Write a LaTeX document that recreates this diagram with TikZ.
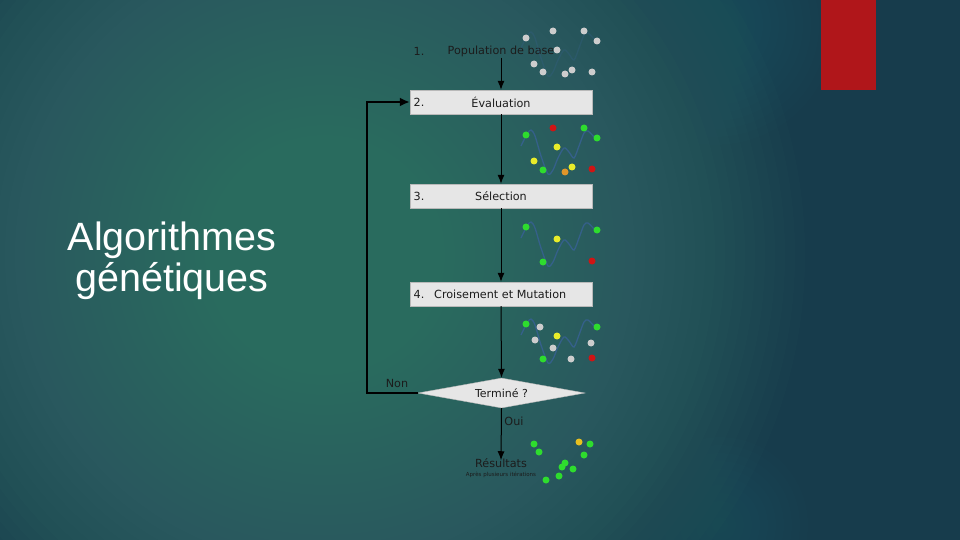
\documentclass[tikz,border=0pt]{standalone}
\usepackage{fontspec}
\setmainfont{Liberation Sans}
\newfontfamily\chartfont{DejaVu Sans}
\usepackage{tikz}
\usetikzlibrary{arrows.meta}
\usetikzlibrary{shapes,arrows}
\usetikzlibrary{positioning}
\usetikzlibrary{shapes.geometric}

\definecolor{bgdark}{HTML}{173C4C}
\definecolor{bglight}{HTML}{45877A}
\definecolor{bgmid}{HTML}{2A6872}
\definecolor{accentred}{HTML}{B0161A}
\definecolor{boxgrey}{HTML}{E6E6E6}
\definecolor{chartink}{HTML}{1C1C1C}
\definecolor{wavecol}{HTML}{35608A}
\definecolor{dotgreen}{HTML}{2EDC2E}
\definecolor{dotred}{HTML}{D01414}
\definecolor{dotyellow}{HTML}{E8EC2A}
\definecolor{dotorange}{HTML}{E0962A}
\definecolor{dotgold}{HTML}{E8C020}
\definecolor{dotgrey}{HTML}{CDCDCD}

\tikzset{
    stepbox/.style={draw=gray!55, line width=0.4pt, fill=boxgrey, minimum width=182pt,
        minimum height=24pt, inner sep=0pt, text=chartink, font=\chartfont\fontsize{11.2}{13}\selectfont},
    decision/.style={diamond, draw=gray!55, line width=0.4pt, fill=boxgrey, minimum width=167pt,
        minimum height=30pt, aspect=5.5, inner sep=0pt, text=chartink, font=\chartfont\fontsize{11}{13}\selectfont},
    steptext/.style={inner sep=1pt, text=chartink, font=\chartfont\fontsize{11.2}{13}\selectfont},
    smalltext/.style={inner sep=0pt, text=chartink, font=\chartfont\fontsize{5.5}{6}\selectfont},
    flow/.style={draw=black, line width=1pt, -{Latex[length=9pt, width=7pt]}},
    loopline/.style={draw=black, line width=2.6pt, -{Latex[length=10pt, width=9pt]}},
    wave/.style={draw=wavecol, line width=1.3pt},
}

\begin{document}
\begin{tikzpicture}[x=1pt, y=-1pt]
	% background
	\useasboundingbox (0,0) rectangle (960,540);
	\fill[bgdark] (0,0) rectangle (960,540);
	\begin{scope}
		\clip (0,0) rectangle (960,540);
		\foreach \r in {10,20,...,480}
			\fill[bglight, opacity=0.034] (325,255) circle (\r);
		\foreach \r in {8,16,...,120}
			\fill[bgmid, opacity=0.035] (715,25) circle (\r);
		\foreach \r in {8,16,...,88}
			\fill[bgmid, opacity=0.03] (720,525) circle (\r);
	\end{scope}
	\fill[accentred] (821,0) rectangle (876,90);

	% title
	\node[align=center, text=white, inner sep=0pt, font=\fontsize{39.5}{41}\selectfont] (title) at (172,261) {Algorithmes\\génétiques};

	% steps
	\node[steptext] (pop) at (501,51) {Population de base};
	\node[steptext] (n1) at (419,51) {1.};
	\node[stepbox] (eval) at (501,102) {Évaluation};
	\node[steptext] (n2) at (419,102) {2.};
	\node[stepbox] (sel) at (501,196) {Sélection};
	\node[steptext] (n3) at (419,196) {3.};
	\node[stepbox] (cross) at (501,294) {};
	\node[steptext, anchor=west] (crosstext) at (433,294) {Croisement et Mutation};
	\node[steptext] (n4) at (419,294) {4.};
	\node[decision] (done) at (501.5,393) {Terminé ?};
	\node[steptext] (res) at (501,463) {Résultats};
	\node[smalltext] (iter) at (501,475) {Après plusieurs itérations};
	\node[steptext] (non) at (397,383) {Non};
	\node[steptext] (oui) at (514,421) {Oui};
	\coordinate (loopx) at (367,0);

	% connectors
	\draw[flow] (pop.south) -- (eval.north);
	\draw[flow] (eval.south) -- (sel.north);
	\draw[flow] (sel.south) -- (cross.north);
	\draw[flow] (cross.south) -- (done.north);
	\draw[flow] (done.south) -- ([yshift=-3pt]res.north);
	\draw[loopline] (done.west) -- (done.west -| loopx) |- (eval.west);

	% populations
	\begin{scope}[opacity=0.3]
		\draw[wave, shift={(0,-190)}] plot[smooth] coordinates {(521,238) (527,226) (531,222) (535,228) (541,248) (548,266) (553,262) (558,250) (564,240) (569,244) (574,250) (579,238) (584,225) (588,223) (594,229)};
	\end{scope}
	\foreach \dy in {-92,0,97}
		\draw[wave, shift={(0,\dy)}] plot[smooth] coordinates {(521,238) (527,226) (531,222) (535,228) (541,248) (548,266) (553,262) (558,250) (564,240) (569,244) (574,250) (579,238) (584,225) (588,223) (594,229)};

	\foreach \p in {(526,38),(553,31),(584,31),(597,41),(557,50),(534,64),(543,72),(565,74),(572,70),(592,72)}
		\fill[dotgrey] \p circle (3.5);

	\foreach \p in {(526,135),(584,128),(597,138),(543,170)}
		\fill[dotgreen] \p circle (3.5);
	\foreach \p in {(553,128),(592,169)}
		\fill[dotred] \p circle (3.5);
	\foreach \p in {(557,147),(534,161),(572,167)}
		\fill[dotyellow] \p circle (3.5);
	\fill[dotorange] (565,172) circle (3.5);

	\foreach \p in {(526,227),(597,230),(543,262)}
		\fill[dotgreen] \p circle (3.5);
	\fill[dotyellow] (557,239) circle (3.5);
	\fill[dotred] (592,261) circle (3.5);

	\foreach \p in {(526,324),(597,327),(543,359)}
		\fill[dotgreen] \p circle (3.5);
	\foreach \p in {(540,327),(535,340),(553,348),(571,359),(591,343)}
		\fill[dotgrey] \p circle (3.5);
	\fill[dotyellow] (557,336) circle (3.5);
	\fill[dotred] (592,358) circle (3.5);

	\foreach \p in {(534,444),(539,452),(590,444),(584,455),(565,463),(562,467),(573,469),(559,476),(546,480)}
		\fill[dotgreen] \p circle (3.5);
	\fill[dotgold] (579,442) circle (3.5);
\end{tikzpicture}
\end{document}
